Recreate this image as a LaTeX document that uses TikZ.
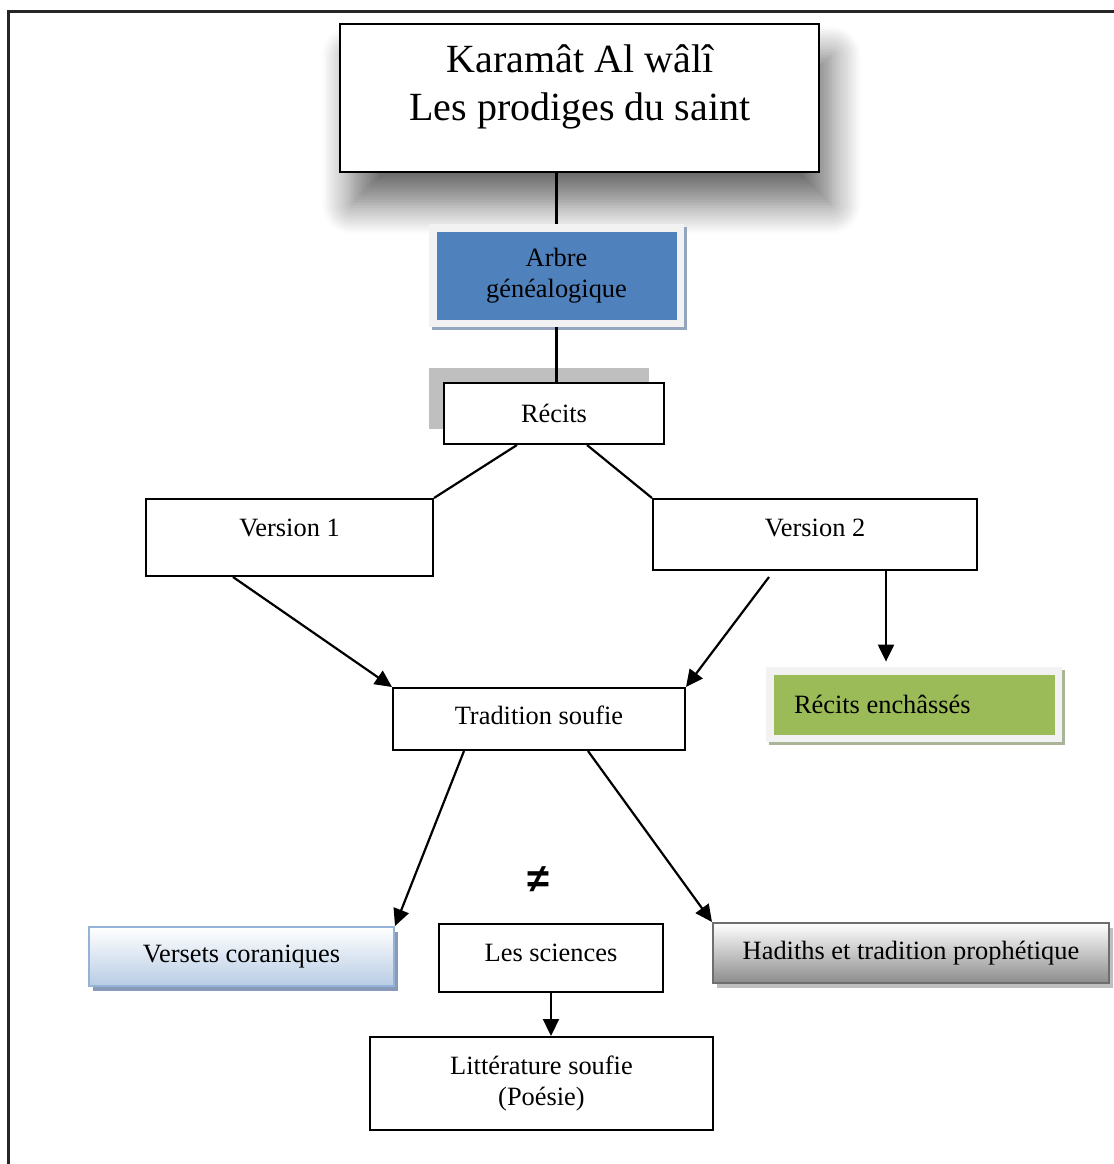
\documentclass[tikz,border=0pt]{standalone}
\usepackage{fontspec}
\setmainfont{Liberation Serif}
\newfontfamily\symbolfont{Liberation Sans}
\usetikzlibrary{arrows.meta,shadows,shadows.blur}
\definecolor{arbreblue}{RGB}{79,129,189}
\definecolor{framegray}{RGB}{242,242,242}
\definecolor{arbreshadow}{RGB}{150,165,190}
\definecolor{recitgreen}{RGB}{155,187,89}
\definecolor{greenshadow}{RGB}{170,180,150}
\definecolor{versetblue}{RGB}{184,204,228}
\definecolor{versetborder}{RGB}{149,179,215}
\definecolor{versetshadow}{RGB}{135,155,185}
\definecolor{hadithgray}{RGB}{140,140,140}
\definecolor{hadithborder}{RGB}{110,110,110}
\definecolor{hadithshadow}{RGB}{190,190,190}
\definecolor{recitshadow}{RGB}{191,191,191}

\begin{document}
\begin{tikzpicture}[
    x=0.5pt, y=-0.5pt,
    >={Triangle[length=8.5pt,width=8pt]},
    every node/.style={font=\fontsize{13.2}{15.5}\selectfont},
    box/.style={rectangle, draw=black, line width=1pt, fill=white, align=center, inner sep=0pt},
    tintbox/.style 2 args={rectangle, fill=framegray, align=center, inner sep=0pt,
        drop shadow={shadow xshift=1.5pt, shadow yshift=-1.5pt, fill=#2, opacity=1},
        path picture={\fill[#1] ([shift={(3.75pt,3.75pt)}]path picture bounding box.south west)
            rectangle ([shift={(-3.75pt,-3.75pt)}]path picture bounding box.north east);}},
    shadebox/.style n args={3}{rectangle, draw=#2, line width=1pt, top color=white, bottom color=#1,
        align=center, inner sep=0pt,
        drop shadow={shadow xshift=2pt, shadow yshift=-2.5pt, fill=#3, opacity=1}},
    link/.style={line width=1.1pt},
    arrow/.style={->, line width=1.1pt}
]
    \useasboundingbox (0,0) rectangle (1114,1164);
    \draw[line width=1.5pt, black!85] (8,1164) |- (1114,11);

    % title with its soft shadow
    \node (titre) [box, line width=1.3pt, minimum width=239.5pt, minimum height=74pt,
        blur shadow={shadow xshift=6pt, shadow yshift=-16pt, shadow blur radius=15pt,
        shadow blur steps=12, shadow opacity=58}] at (579.5,98) {};
    \node (titretxt) [align=center, font=\fontsize{20}{24}\selectfont] at (580,86.5)
        {Karamât Al wâlî\\Les prodiges du saint};

    \node (arbre) [tintbox={arbreblue}{arbreshadow}, minimum width=127.5pt, minimum height=51.5pt]
        at (556.5,275.5) {Arbre\\généalogique};
    \node (recits) [box, minimum width=110pt, minimum height=30.5pt,
        drop shadow={shadow xshift=-7.5pt, shadow yshift=7.5pt, fill=recitshadow, opacity=1}]
        at (554,413.5) {Récits};

    \node (v1) [box, minimum width=143.5pt, text height=18.5pt, text depth=20pt] at (289.5,498) [anchor=north] {Version 1};
    \node (v2) [box, minimum width=162pt, text height=18.5pt, text depth=17pt] at (815,498) [anchor=north] {Version 2};

    \node (tradition) [box, minimum width=146pt, text height=18pt, text depth=13pt] at (539,687) [anchor=north] {Tradition soufie};
    \node (enchasses) [tintbox={recitgreen}{greenshadow}, minimum width=148pt, minimum height=37.5pt,
        inner xsep=14pt, text width=120pt, align=flush left] at (914,704.5) {Récits enchâssés};

    \node (neq) at (538,880) {\symbolfont\bfseries\fontsize{20}{22}\selectfont ≠};

    \node (versets) [shadebox={versetblue}{versetborder}{versetshadow}, minimum width=152.5pt,
        minimum height=29.5pt] at (241.5,956.5) {Versets coraniques};
    \node (sciences) [box, minimum width=112pt, text height=18.5pt, text depth=15.5pt] at (551,923) [anchor=north] {Les sciences};
    \node (hadiths) [shadebox={hadithgray}{hadithborder}{hadithshadow}, minimum width=198pt,
        minimum height=30pt] at (911,953) {Hadiths et tradition prophétique};
    \node (litterature) [box, minimum width=171.5pt, minimum height=46.5pt] at (541.5,1083.5)
        {Littérature soufie\\(Poésie)};

    \coordinate (v2r) at ([xshift=35.5pt]v2.south);

    \draw[link] (arbre.north |- titre.south) -- (arbre.north);
    \draw[link] (arbre.south) -- (arbre.south |- recits.north);
    \draw[link] ([xshift=-18.5pt]recits.south) -- (v1.north east);
    \draw[link] ([xshift=16.5pt]recits.south) -- (v2.north west);
    \draw[arrow] ([xshift=-28.25pt]v1.south) -- (tradition.north west);
    \draw[arrow] ([xshift=-23pt,yshift=-3pt]v2.south) -- (tradition.north east);
    \draw[arrow, shorten >=2.5pt] (v2r) -- (v2r |- enchasses.north);
    \draw[arrow] ([xshift=-37.5pt]tradition.south) -- (versets.north east);
    \draw[arrow] ([xshift=24.5pt]tradition.south) -- (hadiths.north west);
    \draw[arrow] (sciences.south) -- (sciences.south |- litterature.north);

\end{tikzpicture}
\end{document}
